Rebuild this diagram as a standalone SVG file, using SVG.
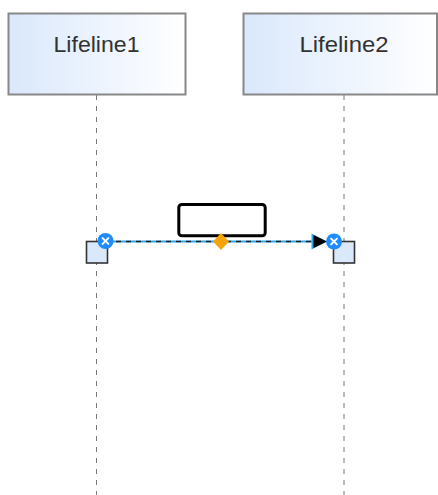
<svg xmlns="http://www.w3.org/2000/svg" width="438" height="495" viewBox="0 0 438 495">
<style>
.box{stroke:#888;stroke-width:2;fill:url(#g)}
.lbl{font-family:"Liberation Sans",Arial,sans-serif;font-size:22px;fill:#333;text-anchor:middle}
.life{stroke:#7a7a7a;stroke-width:1;stroke-dasharray:5 6;fill:none}
.act{fill:#dae8fc;stroke:#333;stroke-width:1.6}
.hnd{fill:#1e8cff}
.x{stroke:#fff;stroke-width:2;stroke-linecap:round}
</style>
<defs>
<linearGradient id="g" x1="0" y1="0" x2="1" y2="0">
<stop offset="0" stop-color="#dae8fc"/>
<stop offset="1" stop-color="#ffffff"/>
</linearGradient>
</defs>
<rect width="438" height="495" fill="#fff"/>
<g id="lifeline1">
<line class="life" x1="96.5" y1="95" x2="96.5" y2="495"/>
<rect class="box" x="8.5" y="13.5" width="177" height="81"/>
<text class="lbl" x="96.5" y="52.3" textLength="86" lengthAdjust="spacingAndGlyphs">Lifeline1</text>
<rect class="act" x="86.5" y="241.5" width="21" height="21.5"/>
</g>
<g id="lifeline2">
<line class="life" x1="344" y1="95" x2="344" y2="495"/>
<rect class="box" x="243.5" y="13.5" width="193.5" height="81"/>
<text class="lbl" x="344" y="52.3" textLength="89" lengthAdjust="spacingAndGlyphs">Lifeline2</text>
<rect class="act" x="333.5" y="241.5" width="21" height="21.5"/>
</g>
<g id="connectors">
<line x1="106" y1="241.5" x2="316" y2="241.5" stroke="#29a8f2" stroke-width="2"/>
<line x1="106" y1="241.5" x2="316" y2="241.5" stroke="#222" stroke-width="1.5" stroke-dasharray="5 5"/>
<polygon points="311.5,233.5 327,241.5 311.5,249.5" fill="#29a8f2"/>
<polygon points="313.5,235 327,241.5 313.5,248" fill="#000"/>
</g>
<g id="message-label">
<rect x="178.8" y="204.5" width="86.4" height="31.3" rx="3" fill="#fff" stroke="#000" stroke-width="3"/>
<polygon points="221,233 229,241.5 221,250 213,241.5" fill="#f5a30a"/>
</g>
<g id="handles">
<circle class="hnd" cx="105.5" cy="241" r="8"/>
<line class="x" x1="102.6" y1="238.1" x2="108.4" y2="243.9"/>
<line class="x" x1="108.4" y1="238.1" x2="102.6" y2="243.9"/>
<circle class="hnd" cx="334" cy="241.5" r="8"/>
<line class="x" x1="331.1" y1="238.6" x2="336.9" y2="244.4"/>
<line class="x" x1="336.9" y1="238.6" x2="331.1" y2="244.4"/>
</g>
</svg>
